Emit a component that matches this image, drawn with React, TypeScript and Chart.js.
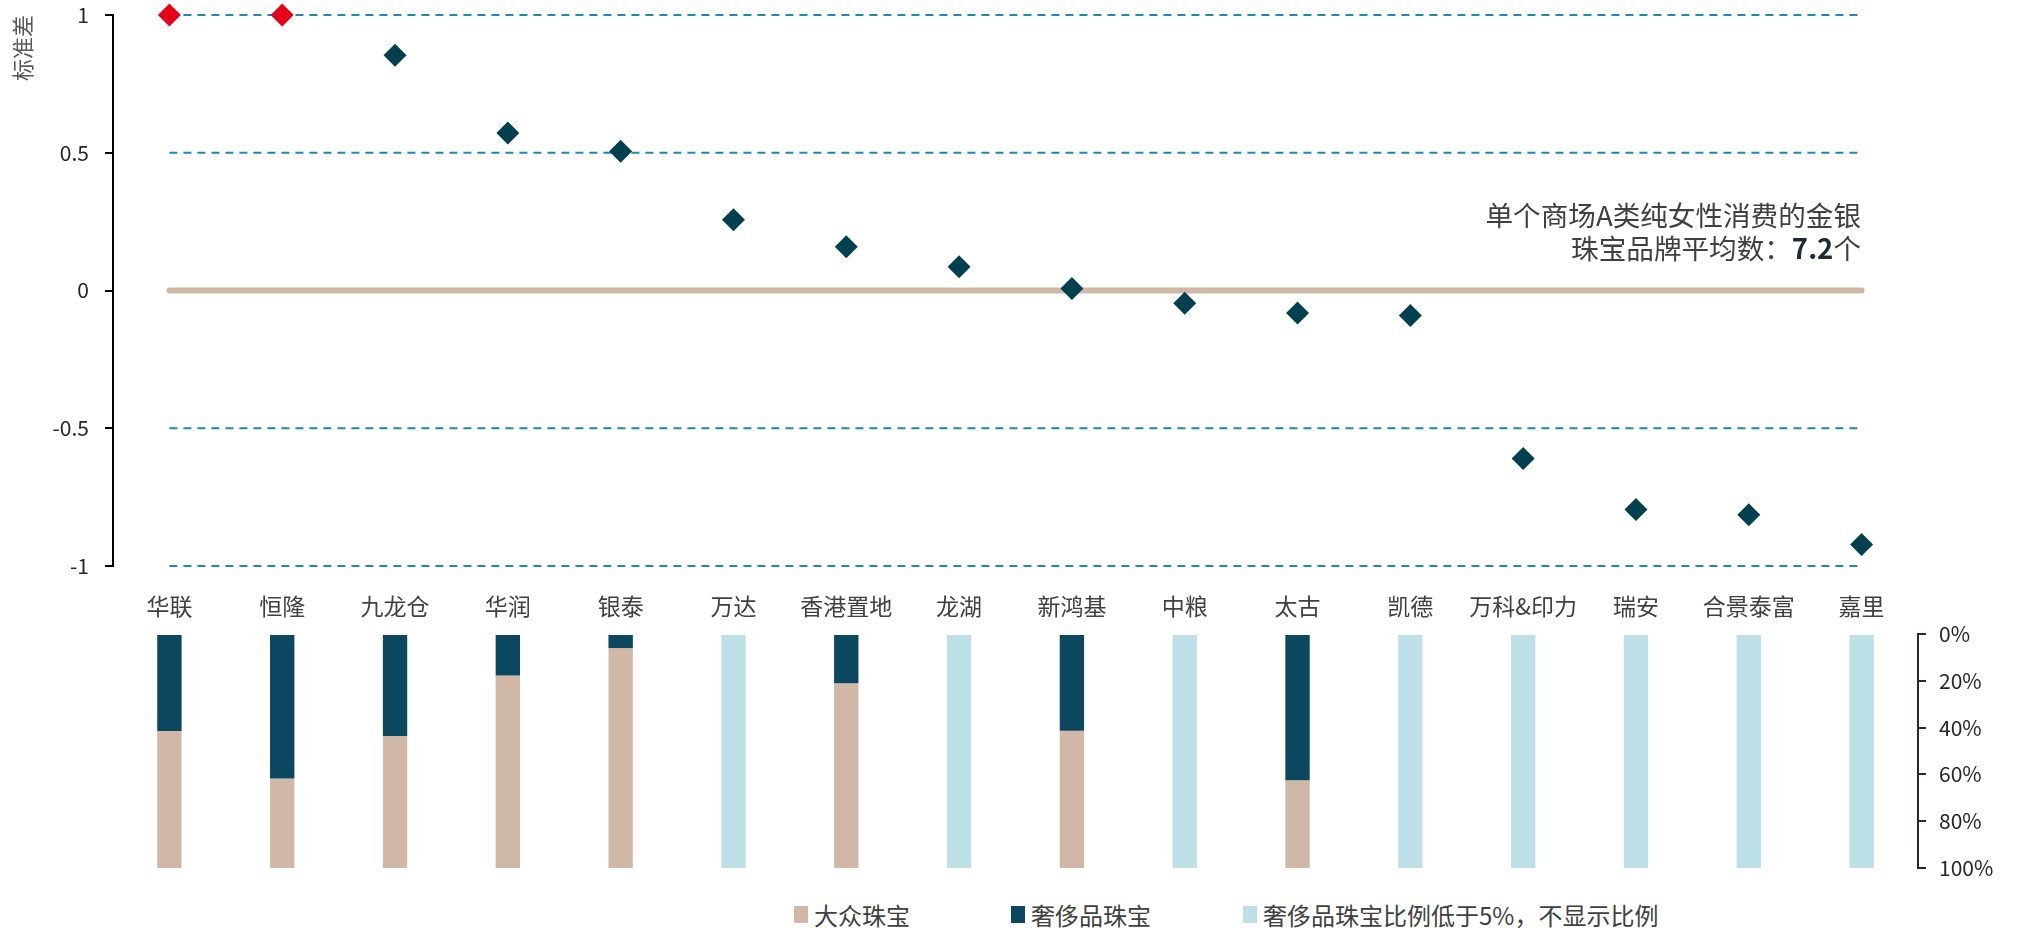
import React, { useEffect, useRef } from 'react';
import { Chart, registerables } from 'chart.js';

Chart.register(...registerables);

// ---------- data ----------
const categories = ['华联', '恒隆', '九龙仓', '华润', '银泰', '万达', '香港置地', '龙湖', '新鸿基', '中粮', '太古', '凯德', '万科&印力', '瑞安', '合景泰富', '嘉里'];
const stdDev = [1.0, 1.0, 0.854, 0.572, 0.505, 0.257, 0.159, 0.086, 0.007, -0.046, -0.082, -0.091, -0.61, -0.795, -0.814, -0.922];
const highlighted = ['华联', '恒隆'];
const dashedLevels = [1, 0.5, -0.5, -1];
const averageLevel = 0;
const yTickStep = 0.5;

const luxuryShare = [41.5, 61.7, 43.6, 17.7, 6.0, null, 21.1, null, 41.3, null, 62.5, null, null, null, null, null];
const massShare = [58.5, 38.3, 56.4, 82.3, 94.0, null, 78.9, null, 58.7, null, 37.5, null, null, null, null, null];
const lowLuxuryShare = [null, null, null, null, null, 100, null, 100, null, 100, null, 100, 100, 100, 100, 100];
const pctTickStep = 20;

const legendLabels = ['大众珠宝', '奢侈品珠宝', '奢侈品珠宝比例低于5%，不显示比例'];
const yTitle = '标准差';
const noteLine1 = '单个商场A类纯女性消费的金银';
const noteLine2 = '珠宝品牌平均数：';
const noteValue = '7.2';
const noteUnit = '个';

// ---------- styles ----------
const FONT = "'Noto Sans CJK SC', 'Noto Sans', sans-serif";
const W = 2019;
const AREA_LEFT = 113;
const AREA_RIGHT = 1918;
const RED = '#E2001A';
const NAVY = '#03404F';
const BAR_NAVY = '#0B475E';
const BEIGE = '#D1B8A6';
const LIGHT = '#BDDFE6';
const DASH = '#2288AE';
const TEXT = '#404040';

Chart.defaults.font.family = FONT;

function TopChart() {
  const ref = useRef<HTMLCanvasElement>(null);
  useEffect(() => {
    const levelData = (v: number) => categories.map(() => v);
    const chart = new Chart(ref.current!, {
      type: 'line',
      data: {
        labels: categories,
        datasets: [
          {
            label: yTitle,
            data: stdDev,
            showLine: false,
            pointStyle: 'rectRot',
            pointRadius: 11.5,
            pointHoverRadius: 11.5,
            pointBorderWidth: 0,
            pointBackgroundColor: categories.map((c) => (highlighted.includes(c) ? RED : NAVY)),
            pointBorderColor: categories.map((c) => (highlighted.includes(c) ? RED : NAVY)),
            borderColor: NAVY,
            clip: false,
          } as any,
          ...dashedLevels.map((v) => ({
            label: 'ref' + v,
            data: levelData(v),
            borderColor: DASH,
            borderWidth: 2,
            borderDash: [8, 6],
            pointRadius: 0,
            fill: false,
            clip: false,
          })),
          {
            label: 'avg',
            data: levelData(averageLevel),
            borderColor: BEIGE,
            borderWidth: 6,
            borderCapStyle: 'round',
            pointRadius: 0,
            fill: false,
            clip: false,
          } as any,
        ],
      },
      options: {
        animation: false,
        responsive: false,
        events: [],
        layout: { padding: { top: 15, right: W - AREA_RIGHT, left: 0, bottom: 0 } },
        plugins: { legend: { display: false }, tooltip: { enabled: false } },
        scales: {
          x: {
            type: 'category',
            offset: true,
            grid: { display: false, drawTicks: false },
            border: { display: false },
            ticks: { font: { size: 23 }, color: TEXT, padding: 26, autoSkip: false, maxRotation: 0 },
            afterFit: (s: any) => { s.height = 74; },
          },
          y: {
            min: -1,
            max: 1,
            ticks: { stepSize: yTickStep, font: { size: 21 }, color: '#262626', padding: 16, callback: (v: any) => String(Number(v)) },
            grid: { drawOnChartArea: false, tickLength: 8, color: '#000', lineWidth: 2 },
            border: { color: '#000', width: 2 },
            title: { display: true, text: yTitle, align: 'end', font: { size: 22 }, color: '#595959', padding: { top: 9, bottom: 0 } },
            afterFit: (s: any) => { s.width = AREA_LEFT; s.paddingTop = 0; s.paddingBottom = 0; },
          },
        },
      } as any,
    });
    return () => chart.destroy();
  }, []);
  return <canvas ref={ref} width={W} height={640} style={{ position: 'absolute', left: 0, top: 0, width: W, height: 640 }} />;
}

function BottomChart() {
  const ref = useRef<HTMLCanvasElement>(null);
  useEffect(() => {
    const chart = new Chart(ref.current!, {
      type: 'bar',
      data: {
        labels: categories,
        datasets: [
          { label: legendLabels[1], data: luxuryShare, backgroundColor: BAR_NAVY },
          { label: legendLabels[0], data: massShare, backgroundColor: BEIGE },
          { label: legendLabels[2], data: lowLuxuryShare, backgroundColor: LIGHT },
        ],
      },
      options: {
        animation: false,
        responsive: false,
        events: [],
        layout: { padding: { top: 14, right: 0, left: AREA_LEFT, bottom: 17 } },
        datasets: { bar: { categoryPercentage: 1, barPercentage: 0.216 } },
        plugins: { legend: { display: false }, tooltip: { enabled: false } },
        scales: {
          x: { stacked: true, display: false, offset: true },
          y: {
            stacked: true,
            position: 'right',
            reverse: true,
            min: 0,
            max: 100,
            ticks: { stepSize: pctTickStep, font: { size: 21 }, color: '#262626', padding: 13, callback: (v: any) => v + '%' },
            grid: { drawOnChartArea: false, tickLength: 8, color: '#1f2a36', lineWidth: 2 },
            border: { color: '#1f2a36', width: 2 },
            afterFit: (s: any) => { s.width = W - AREA_RIGHT; s.paddingTop = 0; s.paddingBottom = 0; },
          },
        },
      } as any,
    });
    return () => chart.destroy();
  }, []);
  return <canvas ref={ref} width={W} height={265} style={{ position: 'absolute', left: 0, top: 620, width: W, height: 265 }} />;
}

const legendItems = [
  { text: legendLabels[0], color: BEIGE, left: 794 },
  { text: legendLabels[1], color: BAR_NAVY, left: 1011 },
  { text: legendLabels[2], color: LIGHT, left: 1243 },
];

export default function App() {
  return (
    <div style={{ position: 'absolute', left: 0, top: 0, width: W, height: 928, background: '#fff', fontFamily: FONT, overflow: 'hidden' }}>
      <TopChart />
      <BottomChart />
      <div style={{ position: 'absolute', right: W - 1861, top: 198, textAlign: 'right', fontSize: 27.6, lineHeight: '33px', color: TEXT, whiteSpace: 'nowrap' }}>
        <div>{noteLine1}</div>
        <div>
          {noteLine2}
          <span style={{ fontWeight: 700, color: '#1c2b36' }}>{noteValue}</span>
          {noteUnit}
        </div>
      </div>
      {legendItems.map((it) => (
        <div key={it.text} style={{ position: 'absolute', left: it.left, top: 898, height: 32, display: 'flex', alignItems: 'center', fontSize: 24, color: TEXT, whiteSpace: 'nowrap' }}>
          <span style={{ display: 'inline-block', width: 14, height: 17, background: it.color, marginRight: 6 }} />
          <span>{it.text}</span>
        </div>
      ))}
    </div>
  );
}
